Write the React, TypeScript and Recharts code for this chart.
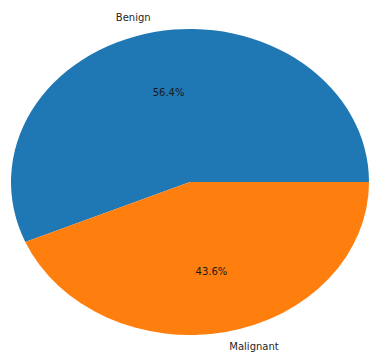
import React from "react";
import { PieChart, Pie, Cell } from "recharts";

const categories = ["Benign", "Malignant"];
const values = [56.4, 43.6];
const colors = ["#1f77b4", "#ff7f0e"];

const data = categories.map((name, i) => ({ name, value: values[i] }));

const RX = 179;
const RY = 153;
const SCALE_Y = RY / RX;
const RAD = Math.PI / 180;

const ellipsePoint = (cx: number, cy: number, r: number, angle: number) => ({
  x: cx + r * Math.cos(angle * RAD),
  y: cy - r * SCALE_Y * Math.sin(angle * RAD),
});

const EllipseSector = (props: any) => {
  const { cx, cy, outerRadius, startAngle, endAngle, fill } = props;
  const p1 = ellipsePoint(cx, cy, outerRadius, startAngle);
  const p2 = ellipsePoint(cx, cy, outerRadius, endAngle);
  const large = Math.abs(endAngle - startAngle) > 180 ? 1 : 0;
  const d = `M${cx},${cy} L${p1.x},${p1.y} A${outerRadius},${outerRadius * SCALE_Y} 0 ${large} 0 ${p2.x},${p2.y} Z`;
  return <path d={d} fill={fill} stroke="none" />;
};

const renderLabel = (props: any) => {
  const { cx, cy, midAngle, outerRadius, percent, name } = props;
  const lp = ellipsePoint(cx, cy, outerRadius * 1.1, midAngle);
  const pp = ellipsePoint(cx, cy, outerRadius * 0.6, midAngle);
  const anchor = lp.x > cx ? "start" : "end";
  return (
    <g>
      <text
        x={lp.x}
        y={lp.y}
        textAnchor={anchor}
        dominantBaseline="central"
        fontFamily="DejaVu Sans"
        fontSize={10}
        fill="#262626"
      >
        {name}
      </text>
      <text
        x={pp.x}
        y={pp.y}
        textAnchor="middle"
        dominantBaseline="central"
        fontFamily="DejaVu Sans"
        fontSize={10}
        fill="#1a1a1a"
      >
        {(percent * 100).toFixed(1) + "%"}
      </text>
    </g>
  );
};

export default function App() {
  return (
    <div style={{ position: "absolute", left: 0, top: 0, width: 371, height: 354, background: "#fff" }}>
      <PieChart width={371} height={354} margin={{ top: 0, right: 0, bottom: 0, left: 0 }}>
        <Pie
          data={data}
          dataKey="value"
          nameKey="name"
          cx={190}
          cy={182}
          outerRadius={RX}
          startAngle={0}
          endAngle={360}
          shape={EllipseSector}
          label={renderLabel}
          labelLine={false}
          isAnimationActive={false}
          stroke="none"
        >
          {data.map((d, i) => (
            <Cell key={d.name} fill={colors[i]} />
          ))}
        </Pie>
      </PieChart>
    </div>
  );
}
